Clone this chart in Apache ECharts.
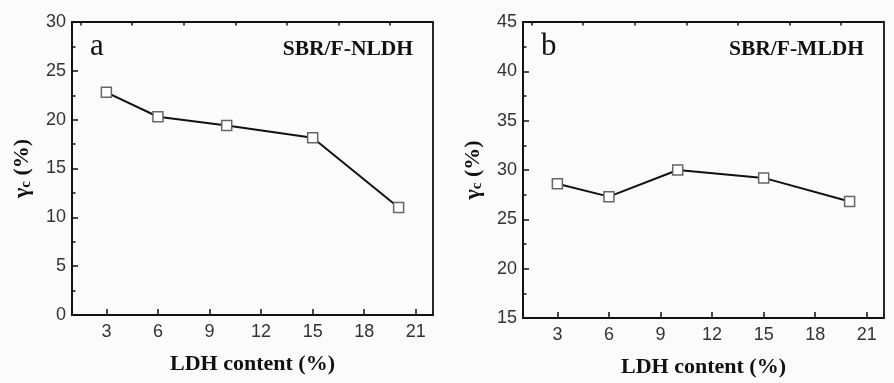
<!DOCTYPE html>
<html>
<head>
<meta charset="utf-8">
<script src="https://cdn.jsdelivr.net/npm/echarts@6/dist/echarts.min.js"></script>
<style>
  html, body { margin: 0; padding: 0; background: #fbfbfb; }
  #chart { width: 894px; height: 383px; }
</style>
</head>
<body>
<div id="chart"></div>
<script>
// LDH content (%)
const ldhContent = [3, 6, 10, 15, 20]
// gamma_c (%) for each panel
const nldhValues = [22.8, 20.3, 19.4, 18.15, 11.0]
const mldhValues = [28.6, 27.3, 30.0, 29.2, 26.8]

const xMajorTicks = [3, 6, 9, 12, 15, 18, 21]
const xMinorTicks = [1.5, 4.5, 7.5, 10.5, 13.5, 16.5, 19.5]

const panels = [
  { letter: 'a', label: 'SBR/F-NLDH', values: nldhValues, yMin: 0, yMax: 30 },
  { letter: 'b', label: 'SBR/F-MLDH', values: mldhValues, yMin: 15, yMax: 45 },
]

const grids = [
  { left: 72, top: 22, width: 361, height: 293 },
  { left: 523, top: 22, width: 361, height: 297 },
]

const serif = '"Liberation Serif", "Times New Roman", serif'
const sans = '"Liberation Sans", Arial, sans-serif'

const chart = echarts.init(document.getElementById('chart'))

const xAxes = []
const yAxes = []
const series = []
const graphics = []

panels.forEach((p, i) => {
  const g = grids[i]
  xAxes.push({
    type: 'value',
    gridIndex: i,
    min: 1,
    max: 22,
    name: 'LDH content (%)',
    nameLocation: 'middle',
    nameGap: 38,
    nameTextStyle: { fontFamily: serif, fontWeight: 'bold', fontSize: 22, color: '#111' },
    axisLine: { show: true, lineStyle: { color: '#111', width: 1.8 } },
    axisTick: { show: true, inside: true, length: 6, customValues: xMajorTicks, lineStyle: { color: '#111', width: 1.5 } },
    axisLabel: { customValues: xMajorTicks, margin: 8, fontFamily: sans, fontSize: 18, color: '#333' },
    splitLine: { show: false },
  })
  // minor ticks along the bottom
  xAxes.push({
    type: 'value',
    gridIndex: i,
    min: 1,
    max: 22,
    axisLine: { show: false },
    axisTick: { show: true, inside: true, length: 3.5, customValues: xMinorTicks, lineStyle: { color: '#111', width: 1.5 } },
    axisLabel: { show: false },
    splitLine: { show: false },
  })
  yAxes.push({
    type: 'value',
    gridIndex: i,
    min: p.yMin,
    max: p.yMax,
    interval: 5,
    name: '{g|γ}{s|c}{g| (%)}',
    nameLocation: 'middle',
    nameGap: 38,
    nameRotate: 90,
    nameTextStyle: {
      rich: {
        g: { fontFamily: serif, fontWeight: 'bold', fontSize: 22, color: '#111' },
        s: { fontFamily: serif, fontWeight: 'bold', fontSize: 15, color: '#111', verticalAlign: 'bottom', padding: [9, 0, 0, 0] },
      },
    },
    axisLine: { show: true, lineStyle: { color: '#111', width: 1.8 } },
    axisTick: { show: true, inside: true, length: 6, lineStyle: { color: '#111', width: 1.5 } },
    minorTick: { show: true, splitNumber: 2, length: 3.5, lineStyle: { color: '#111', width: 1.5 } },
    axisLabel: { margin: 6, fontFamily: sans, fontSize: 18, color: '#333' },
    splitLine: { show: false },
  })
  series.push({
    type: 'line',
    xAxisIndex: i * 2,
    yAxisIndex: i,
    data: ldhContent.map((x, k) => [x, p.values[k]]),
    symbol: 'rect',
    symbolSize: 10,
    itemStyle: { color: '#fff', borderColor: '#666', borderWidth: 1.5 },
    lineStyle: { color: '#111', width: 2 },
    z: 3,
  })
  graphics.push({
    type: 'text',
    left: g.left + 18,
    top: g.top + 9,
    style: { text: p.letter, font: '31px ' + serif, fill: '#111' },
  })
  graphics.push({
    type: 'text',
    right: 894 - (g.left + g.width) + 20,
    top: g.top + 16,
    style: { text: p.label, font: 'bold 21.5px ' + serif, fill: '#111' },
  })
})

chart.setOption({
  backgroundColor: '#fbfbfb',
  animation: false,
  grid: grids.map((g) => ({ ...g, show: true, borderColor: '#111', borderWidth: 1.8, backgroundColor: 'transparent' })),
  xAxis: xAxes,
  yAxis: yAxes,
  series,
  graphic: graphics,
})
</script>
</body>
</html>
